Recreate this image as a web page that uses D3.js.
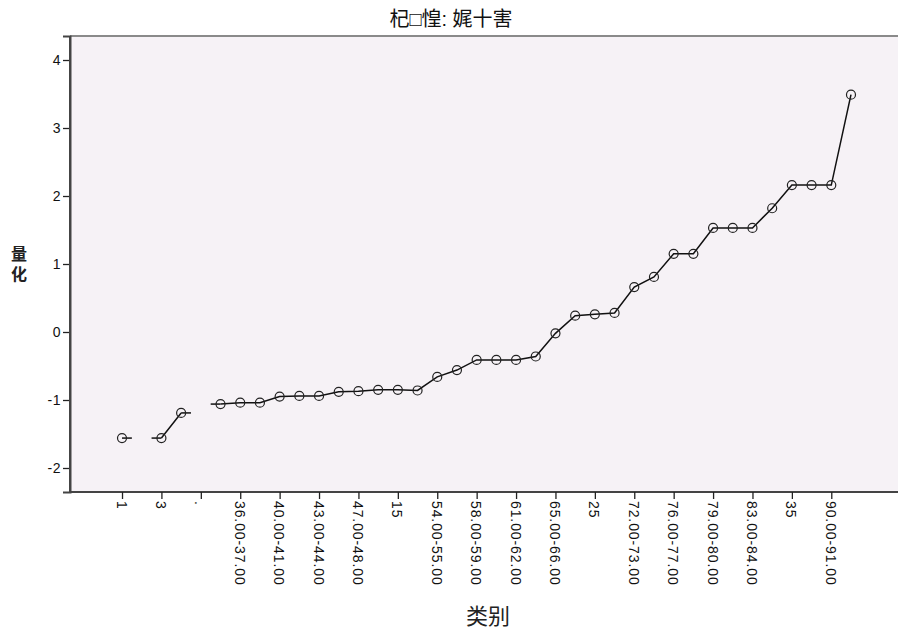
<!DOCTYPE html>
<html>
<head>
<meta charset="utf-8">
<script src="https://cdn.jsdelivr.net/npm/d3@7"></script>
<style>
  html, body { margin: 0; padding: 0; background: #ffffff; }
  svg { display: block; }
  text { font-family: Arial, "Liberation Sans", "Noto Sans CJK SC", sans-serif; }
</style>
</head>
<body>
<svg id="chart" width="898" height="630"></svg>
<script>
// ---- data ----
const title = "杞□惶: 娓十害";
const xTitle = "类别";
const yTitle = ["量", "化"];

// category index positions (38 categories, every other one labelled)
const categoryCount = 38;
const tickLabels = ["1", "3", ".", "36.00-37.00", "40.00-41.00", "43.00-44.00", "47.00-48.00", "15",
  "54.00-55.00", "58.00-59.00", "61.00-62.00", "65.00-66.00", "25", "72.00-73.00",
  "76.00-77.00", "79.00-80.00", "83.00-84.00", "35", "90.00-91.00"];
const tickIndices = [0, 2, 4, 6, 8, 10, 12, 14, 16, 18, 20, 22, 24, 26, 28, 30, 32, 34, 36];

// quantification values (null = no point)
const quantValues = [
  -1.56, null, -1.56, -1.19, null, -1.06, -1.04, -1.04, -0.95, -0.94,
  -0.94, -0.88, -0.87, -0.85, -0.85, -0.86, -0.66, -0.56, -0.41, -0.41,
  -0.41, -0.36, -0.02, 0.24, 0.26, 0.28, 0.66, 0.81, 1.15, 1.15,
  1.53, 1.53, 1.53, 1.82, 2.16, 2.16, 2.16, 3.49
];
const yTicks = [-2, -1, 0, 1, 2, 3, 4];

// ---- layout ----
const plot = { left: 70, right: 903, top: 36, bottom: 492 };
const svg = d3.select("#chart");

const x = d3.scalePoint()
  .domain(d3.range(categoryCount))
  .range([plot.left, plot.right])
  .padding(2.64);

const y = d3.scaleLinear()
  .domain([-2.353, 4.353])
  .range([plot.bottom, plot.top]);

// plot background
svg.append("rect")
  .attr("x", plot.left).attr("y", plot.top)
  .attr("width", plot.right - plot.left)
  .attr("height", plot.bottom - plot.top)
  .attr("fill", "#f6f2f6");

// top border
svg.append("line")
  .attr("x1", plot.left).attr("x2", plot.right)
  .attr("y1", plot.top).attr("y2", plot.top)
  .attr("stroke", "#8a8a8a").attr("stroke-width", 2);

// y axis
const yAxis = svg.append("g")
  .attr("transform", `translate(${plot.left},0)`)
  .call(d3.axisLeft(y).tickValues(yTicks).tickSize(7).tickPadding(2).tickFormat(d => String(d)));
yAxis.select(".domain").attr("stroke", "#444").attr("stroke-width", 2);
yAxis.selectAll(".tick line").attr("stroke", "#222").attr("stroke-width", 1.3);
yAxis.selectAll(".tick text").attr("font-size", 14).attr("fill", "#111").attr("letter-spacing", 0.5);

// x axis
const labelOf = new Map(tickIndices.map((d, i) => [d, tickLabels[i]]));
const xAxis = svg.append("g")
  .attr("transform", `translate(0,${plot.bottom})`)
  .call(d3.axisBottom(x).tickValues(tickIndices).tickSize(7).tickFormat(d => labelOf.get(d)));
xAxis.select(".domain").attr("stroke", "#444").attr("stroke-width", 2)
  .attr("d", `M${plot.left},0H${plot.right}`);
xAxis.selectAll(".tick line").attr("stroke", "#222").attr("stroke-width", 1.3);
xAxis.selectAll(".tick text")
  .attr("font-size", 14).attr("fill", "#111")
  .attr("letter-spacing", 0.9)
  .attr("text-anchor", "start")
  .attr("x", 0).attr("y", 0)
  .attr("dy", "0.35em")
  .attr("transform", "translate(-1,9) rotate(90)");

// left axis border redraw through the bottom corner
svg.append("line")
  .attr("x1", plot.left).attr("x2", plot.left)
  .attr("y1", plot.top).attr("y2", plot.bottom + 1)
  .attr("stroke", "#444").attr("stroke-width", 2);

// line with gaps
const pts = quantValues.map((v, i) => ({ i, v }));
const line = d3.line()
  .defined(d => d.v !== null)
  .x(d => x(d.i))
  .y(d => y(d.v));

svg.append("path")
  .datum(pts)
  .attr("d", line)
  .attr("fill", "none")
  .attr("stroke", "#111")
  .attr("stroke-width", 1.5);

// short stubs toward missing neighbours
const half = x.step() / 2;
const stubs = [];
pts.forEach(d => {
  if (d.v === null) return;
  if (d.i > 0 && quantValues[d.i - 1] === null) stubs.push({ d, dir: -1 });
  if (d.i < categoryCount - 1 && quantValues[d.i + 1] === null) stubs.push({ d, dir: 1 });
});
svg.append("g").selectAll("line")
  .data(stubs)
  .join("line")
  .attr("x1", s => x(s.d.i))
  .attr("x2", s => x(s.d.i) + s.dir * half)
  .attr("y1", s => y(s.d.v))
  .attr("y2", s => y(s.d.v))
  .attr("stroke", "#111")
  .attr("stroke-width", 1.5);

// markers
svg.append("g").selectAll("circle")
  .data(pts.filter(d => d.v !== null))
  .join("circle")
  .attr("cx", d => x(d.i))
  .attr("cy", d => y(d.v))
  .attr("r", 4.5)
  .attr("fill", "none")
  .attr("stroke", "#222")
  .attr("stroke-width", 1.2);

// title
svg.append("text")
  .attr("x", 451).attr("y", 26)
  .attr("text-anchor", "middle")
  .attr("font-size", 20)
  .attr("font-family", "'Noto Sans CJK SC', sans-serif")
  .attr("fill", "#111")
  .text(title);

// x title
svg.append("text")
  .attr("x", 488).attr("y", 624)
  .attr("text-anchor", "middle")
  .attr("font-size", 22)
  .attr("font-family", "'Noto Sans CJK SC', sans-serif")
  .attr("fill", "#222")
  .text(xTitle);

// y title (vertical stacked)
svg.append("text")
  .attr("text-anchor", "middle")
  .attr("font-size", 16)
  .attr("font-weight", "bold")
  .attr("font-family", "'Noto Sans CJK SC', sans-serif")
  .attr("fill", "#222")
  .selectAll("tspan")
  .data(yTitle)
  .join("tspan")
  .attr("x", 19)
  .attr("y", (d, i) => 260 + i * 20)
  .text(d => d);
</script>
</body>
</html>
